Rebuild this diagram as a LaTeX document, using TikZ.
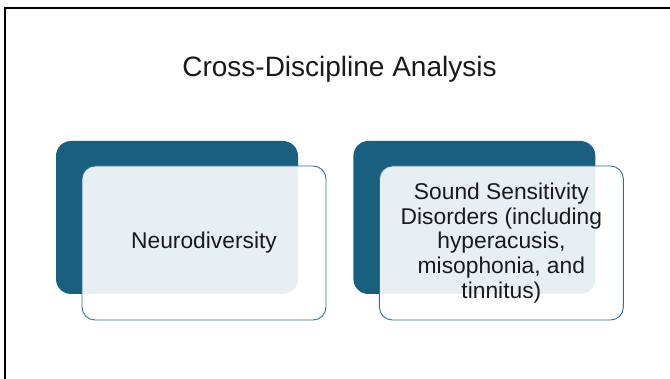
\documentclass[tikz,border=0pt]{standalone}
\usepackage{fontspec}
\setmainfont{Liberation Sans}
\usepackage{xcolor}
\usepackage{tikz}
\usetikzlibrary{positioning}

\definecolor{boxblue}{RGB}{25,96,128}
\definecolor{textgray}{RGB}{26,26,26}

\begin{document}
\begin{tikzpicture}[x=1pt, y=1pt, node distance=1cm,
    backblock/.style={rectangle, fill=boxblue, minimum width=242pt, minimum height=153pt, rounded corners=15pt, inner sep=0pt},
    frontblock/.style={rectangle, draw=boxblue!90, fill=white, fill opacity=0.9, text opacity=1, line width=0.9pt, minimum width=244pt, minimum height=154pt, rounded corners=13pt, align=center, text=textgray, font=\fontsize{22.8}{24.8}\selectfont},
    titletext/.style={text=textgray, font=\fontsize{28}{32}\selectfont, inner sep=0pt}]

    \useasboundingbox (0,0) rectangle (670,379);
    \draw [line width=2pt] (5,0) -- (5,371) -- (670,371);

    \node [titletext, anchor=base] (title) at (339.5,302) {Cross-Discipline Analysis};

    \node [backblock] (neuroback) at (177,161.5) {};
    \node [backblock, right=55pt of neuroback] (soundback) {};

    \node [frontblock, below right=25.5pt and 27pt of neuroback.center, anchor=center] (neuro) {Neurodiversity};
    \node [frontblock, below right=25.5pt and 27pt of soundback.center, anchor=center] (sound) {Sound Sensitivity\\Disorders (including\\hyperacusis,\\misophonia, and\\tinnitus)};
\end{tikzpicture}
\end{document}
